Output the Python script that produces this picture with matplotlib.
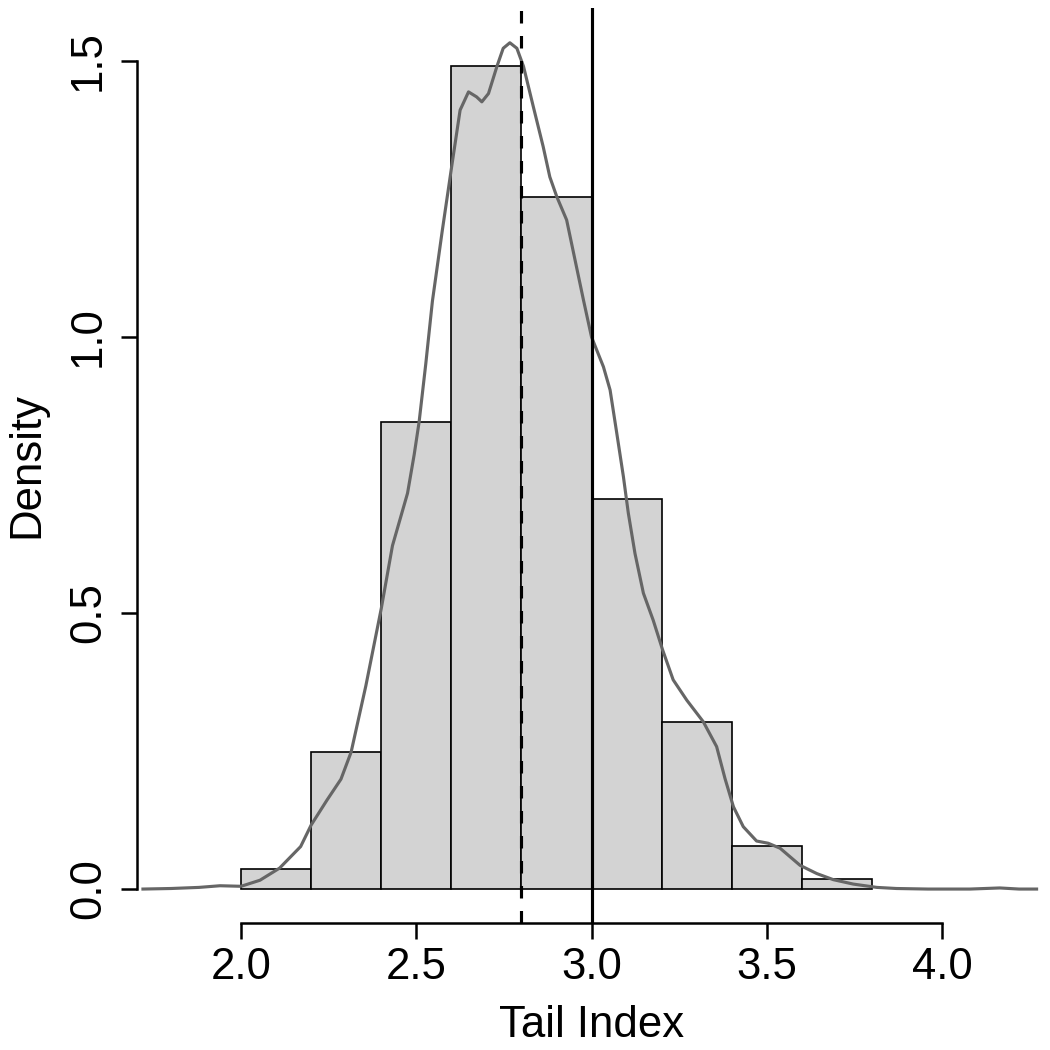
import matplotlib
matplotlib.use("Agg")
import matplotlib.pyplot as plt
import numpy as np

plt.rcParams["font.family"] = ["Liberation Sans", "DejaVu Sans"]

# histogram of tail index estimates (density scale)
bin_edges = [2.0, 2.2, 2.4, 2.6, 2.8, 3.0, 3.2, 3.4, 3.6, 3.8]
bin_density = [0.036, 0.248, 0.846, 1.491, 1.254, 0.707, 0.303, 0.078, 0.018]

# kernel density estimate
kde_x = [1.72, 1.80, 1.88, 1.94, 2.00, 2.054, 2.11, 2.17, 2.20, 2.245, 2.285,
         2.314, 2.356, 2.40, 2.432, 2.475, 2.494, 2.508, 2.527, 2.546, 2.574,
         2.601, 2.625, 2.649, 2.672, 2.687, 2.706, 2.730, 2.748, 2.767, 2.787,
         2.806, 2.834, 2.862, 2.881, 2.901, 2.929, 2.977, 3.000, 3.034, 3.053,
         3.072, 3.091, 3.105, 3.124, 3.148, 3.176, 3.203, 3.233, 3.272, 3.319,
         3.357, 3.381, 3.405, 3.433, 3.471, 3.504, 3.538, 3.595, 3.643, 3.690,
         3.747, 3.814, 3.87, 3.96, 4.08, 4.165, 4.22, 4.27]
kde_y = [0.000, 0.001, 0.003, 0.006, 0.005, 0.016, 0.038, 0.077, 0.116, 0.161, 0.199,
         0.248, 0.368, 0.508, 0.622, 0.717, 0.787, 0.846, 0.951, 1.065, 1.192,
         1.309, 1.411, 1.444, 1.435, 1.426, 1.441, 1.490, 1.523, 1.533, 1.523,
         1.490, 1.417, 1.345, 1.290, 1.254, 1.212, 1.067, 1.000, 0.946, 0.904,
         0.826, 0.747, 0.681, 0.608, 0.536, 0.487, 0.433, 0.379, 0.342, 0.303,
         0.258, 0.200, 0.149, 0.113, 0.087, 0.083, 0.074, 0.043, 0.028, 0.017,
         0.009, 0.003, 0.001, 0.000, 0.000, 0.002, 0.000, 0.000]

median_value = 2.8
true_value = 3.0

x_ticks = [2.0, 2.5, 3.0, 3.5, 4.0]
y_ticks = [0.0, 0.5, 1.0, 1.5]

fig = plt.figure(figsize=(7, 7), dpi=150)
ax = fig.add_axes([0.1308, 0.121, 0.8651, 0.8714])

edges = np.asarray(bin_edges)
ax.bar(edges[:-1], bin_density, width=np.diff(edges), align="edge",
       color="#d3d3d3", edgecolor="black", linewidth=0.8, zorder=1)
ax.plot(kde_x, kde_y, color="#666666", linewidth=1.5, solid_joinstyle="round", zorder=2)
ax.axvline(median_value, color="black", linewidth=1.5, linestyle=(0, (4, 4)), zorder=3)
ax.axvline(true_value, color="black", linewidth=1.5, zorder=3)

ax.set_xlim(1.704, 4.296)
ax.set_ylim(-0.0614, 1.596)

for side in ["top", "right"]:
    ax.spines[side].set_visible(False)
ax.spines["left"].set_bounds(0.0, 1.5)
ax.spines["bottom"].set_bounds(2.0, 4.0)
for side in ["left", "bottom"]:
    ax.spines[side].set_linewidth(1.2)

ax.set_xticks(x_ticks)
ax.set_xticklabels([f"{t:.1f}" for t in x_ticks])
ax.set_yticks(y_ticks)
ax.set_yticklabels([f"{t:.1f}" for t in y_ticks], rotation=90, va="center")
ax.tick_params(axis="both", direction="out", length=7.7, width=1.2,
               labelsize=21, pad=4)
ax.tick_params(axis="y", pad=6)

ax.set_xlabel("Tail Index", fontsize=21, labelpad=8)
ax.set_ylabel("Density", fontsize=21, labelpad=10)

fig.savefig("out.png", dpi=150)
plt.close(fig)
